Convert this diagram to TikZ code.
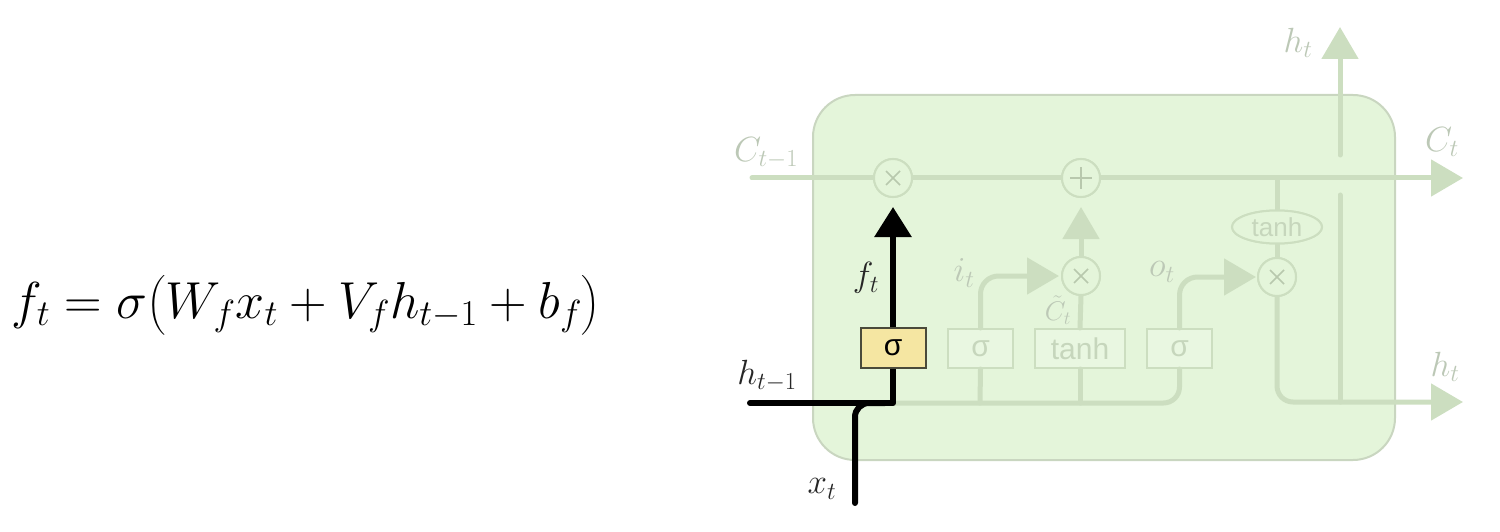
\RequirePackage{fix-cm}
\documentclass[tikz,border=0pt]{standalone}
\usepackage{amsmath}
\usepackage{fontspec}
\newfontfamily\sansf{Liberation Sans}
\usetikzlibrary{arrows.meta,shapes.geometric}
\definecolor{boxfill}{HTML}{E4F5DA}
\definecolor{boxline}{HTML}{C9D6C0}
\definecolor{fline}{HTML}{CCDEC0}
\definecolor{ftext}{HTML}{BCC8B6}
\definecolor{gtext}{HTML}{C6D6BC}
\definecolor{yfill}{HTML}{F5E6A2}
\definecolor{yline}{HTML}{4A4A3A}
\tikzset{
  cellbox/.style={draw=boxline, fill=boxfill, line width=2pt, rounded corners=42pt, inner sep=0pt},
  fpath/.style={draw=fline, line width=5pt, line cap=round, line join=round},
  farrow/.style={-{Triangle[length=32pt,width=36pt]}},
  bpath/.style={draw=black, line width=6pt, line cap=round, line join=round},
  barrow/.style={-{Triangle[length=30pt,width=36pt]}},
  opcirc/.style={circle, draw=fline, fill=boxfill, line width=2pt, minimum size=38pt, inner sep=0pt},
  gatebox/.style={draw=fline, fill=boxfill!80!white, line width=2pt, minimum height=39pt, inner sep=0pt, text=gtext, font=\sansf\fontsize{30}{34}\selectfont},
  ybox/.style={draw=yline, fill=yfill, line width=2pt, minimum width=65pt, minimum height=40pt, inner sep=0pt, font=\sansf\fontsize{30}{34}\selectfont},
  tanhell/.style={ellipse, draw=fline, fill=boxfill, line width=2pt, minimum width=90pt, minimum height=33pt, inner sep=0pt, text=gtext, font=\sansf\fontsize{26}{30}\selectfont},
  flabel/.style={text=ftext, font=\fontsize{35}{40}\selectfont, inner sep=0pt},
  blabel/.style={text=black!85, font=\fontsize{35}{40}\selectfont, inner sep=0pt},
}
\begin{document}
\begin{tikzpicture}[x=1pt,y=-1pt]
\useasboundingbox (0,0) rectangle (1500,532);
% equation
\node[anchor=base, inner sep=0pt, font=\fontsize{52}{60}\selectfont] (eq) at (306,318)
  {$f_t=\sigma\bigl(W_f x_t+V_f h_{t-1}+b_f\bigr)$};
% cell
\node[cellbox, minimum width=582pt, minimum height=365pt] (cell) at (1104,277.5) {};
% coordinates
\coordinate (cin) at (752,178);
\coordinate (cout) at (1463,178);
\coordinate (htopA) at (1340,155);
\coordinate (htopB) at (1340,27);
\coordinate (hvA) at (1340,195);
\coordinate (hvB) at (1340,402);
\coordinate (hout) at (1463,402);
\coordinate (hin) at (750,403);
\coordinate (hj) at (893,403);
\coordinate (xin) at (855,503);
\coordinate (xj) at (885,403);
\coordinate (bi) at (980,403);
\coordinate (bt) at (1080,403);
\coordinate (tj) at (1277,178);
% gates
\node[opcirc] (mf) at (893,178) {};
\node[opcirc] (pl) at (1081,178) {};
\node[opcirc] (mi) at (1081,276) {};
\node[opcirc] (mo) at (1277,277) {};
\node[tanhell] (th) at (1277,227) {tanh};
\node[gatebox, minimum width=65pt] (si) at (980.5,348.5) {σ};
\node[gatebox, minimum width=90pt] (tb) at (1080,348.5) {tanh};
\node[gatebox, minimum width=65pt] (so) at (1179.5,348.5) {σ};
\node[ybox] (sf) at (893,348) {σ};
% faint lines
\path[fpath] (cin) -- (mf.west);
\path[fpath] (mf.east) -- (pl.west);
\path[fpath, farrow] (pl.east) -- (cout);
\path[fpath] (tj) -- (th.north);
\path[fpath] (th.south) -- (mo.north);
\path[fpath, farrow] (htopA) -- (htopB);
\path[fpath] (hvA) -- (hvB);
\path[fpath, farrow, rounded corners=16pt] (mo.south) |- (hout);
\path[fpath, rounded corners=16pt] (hj) -| (so.south);
\path[fpath] (bi) -- (si.south);
\path[fpath] (bt) -- (tb.south);
\path[fpath, farrow, rounded corners=18pt] (si.north) |- ([xshift=-2pt]mi.west);
\path[fpath, farrow, rounded corners=18pt] (so.north) |- ([xshift=-1pt]mo.west);
\path[fpath] (tb.north) -- (mi.south);
\path[fpath, farrow, shorten >=9pt] (mi.north) -- (pl.south);
% redraw circles and ellipse on top
\node[opcirc] at (mf) {};
\node[opcirc] at (pl) {};
\node[opcirc] at (mi) {};
\node[opcirc] at (mo) {};
\node[tanhell] at (th) {tanh};
\foreach \c in {mf,mi,mo}{
  \draw[fline!90!black, line width=1.5pt] ([shift={(-7pt,-7pt)}]\c.center) -- ([shift={(7pt,7pt)}]\c.center);
  \draw[fline!90!black, line width=1.5pt] ([shift={(-7pt,7pt)}]\c.center) -- ([shift={(7pt,-7pt)}]\c.center);
}
\draw[fline!90!black, line width=1.5pt] ([xshift=-11pt]pl.center) -- ([xshift=11pt]pl.center);
\draw[fline!90!black, line width=1.5pt] ([yshift=-11pt]pl.center) -- ([yshift=11pt]pl.center);
% black paths
\path[bpath] (hin) -- (hj) -- (sf.south);
\path[bpath, rounded corners=14pt] (xin) |- (xj);
\path[bpath, barrow, shorten >=9pt] (sf.north) -- (mf.south);
\node[ybox] at (sf) {σ};
% labels
\node[flabel] (lC1) at (766,153) {$C_{t-1}$};
\node[flabel] (lCt) at (1442,142) {$C_t$};
\node[flabel] (lht1) at (1298,43) {$h_t$};
\node[flabel] (lht2) at (1445,367) {$h_t$};
\node[flabel] (lit) at (964,273) {$i_t$};
\node[flabel, font=\fontsize{27}{30}\selectfont] (lCtil) at (1058,310) {$\tilde{C}_t$};
\node[flabel] (lot) at (1162,272) {$o_t$};
\node[blabel] (lft) at (866,278) {$f_t$};
\node[blabel] (lh) at (767,376) {$h_{t-1}$};
\node[blabel] (lx) at (822,489) {$x_t$};
\end{tikzpicture}
\end{document}
